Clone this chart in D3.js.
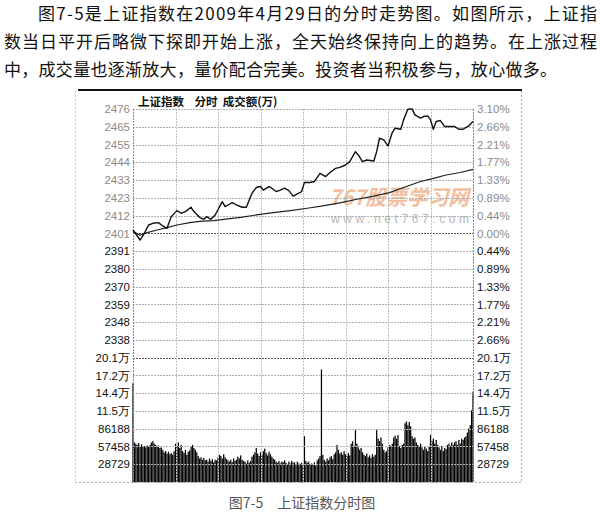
<!DOCTYPE html>
<html><head><meta charset="utf-8">
<script src="https://cdn.jsdelivr.net/npm/d3@7/dist/d3.min.js"></script>
<style>
html,body{margin:0;padding:0;background:#fff;}
svg{display:block;}
</style></head>
<body>
<svg id="c" width="600" height="515"></svg>
<script>
// ---------- data ----------
const paraLines = [
  "图7-5是上证指数在2009年4月29日的分时走势图。如图所示，上证指",
  "数当日平开后略微下探即开始上涨，全天始终保持向上的趋势。在上涨过程",
  "中，成交量也逐渐放大，量价配合完美。投资者当积极参与，放心做多。"
];
const chartTitle = "上证指数    分时  成交额(万)";
const caption = "图7-5　上证指数分时图";
const leftLabels = ["2476","2465","2455","2444","2433","2423","2412","2401","2391","2380","2370","2359","2348","2338",
  "20.1万","17.2万","14.4万","11.5万","86188","57458","28729"];
const rightLabels = ["3.10%","2.66%","2.21%","1.77%","1.33%","0.89%","0.44%","0.00%","0.44%","0.89%","1.33%","1.77%","2.21%","2.66%",
  "20.1万","17.2万","14.4万","11.5万","86188","57458","28729"];
const preClose = 2401.4;
const priceStep = 10.63;
const volStep = 28729;

// price line (minute index from 9:30, 0..240)
const priceMin = [0,5,8,11,14,18,21,24,27,31,34,37,41,43,47,50,52,55,58,63,65,68,70,73,77,80,84,87,90,92,96,98,101,104,107,110,113,117,119,121,125,128,132,136,139,143,146,150,153,157,159,162,165,170,172,174,177,180,183,185,189,191,194,197,199,203,205,208,210,212,214,217,220,224,227,230,233,237,240];
const priceVal = [2403.4,2397.4,2401.4,2406.4,2407.4,2407.8,2405.8,2404.4,2411.4,2415,2413.4,2414.4,2417,2414.4,2411,2409.8,2411.4,2409.8,2412.4,2420.4,2417.4,2418.8,2419.8,2418.4,2417,2417,2425.4,2428.8,2429.4,2427.3,2429.4,2428.4,2426.4,2427.3,2428.4,2427,2423.7,2425.4,2426.4,2431.8,2431.8,2432.4,2437.3,2435.4,2437.8,2440.3,2440.9,2442.3,2444.3,2450.3,2448.3,2444.3,2445.3,2444.7,2450.3,2458.3,2457.3,2453.7,2461.7,2464.3,2463.7,2469.3,2475.7,2475.9,2472.3,2470.3,2471.3,2471.7,2469.3,2463.7,2468.3,2468.9,2465.3,2465.3,2465.3,2463.7,2463.7,2465.7,2468.3];
// average price line
const avgMin = [0,5,10,17,24,31,40,47,57,64,76,87,99,111,123,134,146,158,170,181,193,203,212,221,231,240];
const avgVal = [2402.4,2400.4,2401.8,2403.4,2404.8,2406.4,2407.8,2408.6,2409,2409.8,2411,2412.4,2413.8,2415,2416.4,2417.8,2419.6,2421.8,2423.7,2425.8,2429.4,2432.4,2434.3,2436.3,2437.8,2439.7];
// per-minute volume, in thousands (0..240)
const volumeK = [160,
 64,62,60,63,58,61,57, 58,56,59,57,60, 64,66,62, 60,57,59,55,56, 52,48,50,46,49,45, 47,44,50,
 62,58,64,55,60, 50,47,52,44,49,51, 58,60,55,52,48, 42,38,40,36,39,35, 36,33,38,34,37,32,36,35,
 40,44,42,38,45,40,37, 35,33,36,32,38,34,36, 41,38,43,36,34, 33,30,35,31,34, 41,44,48,55,
 46,42,48,44,50,54, 47,43,49,45,41,38,36,
 33,31,34,30,33,32,35,31,29,33,30,34,31,32,28,33,30,29,31,27,
 74,
 34,31,33,29,30,28,32,27,35,38,42,
 182,
 44,36,33,38,35,40,42,37,45,48,
 60,
 52,46,48,44,50,45,42,47,43,
 62,66,58,84, 62,56,52,55,48, 44,42,46,40,43,39,45,41,44,
 84, 70,66,72,62, 52,48,50,56, 60,58,62, 72,75,70,76, 58,55,60,62,
 95,98,92,97,90, 74,70,72,64, 60,58,62, 56,52,58,54,50,57,
 76, 66,70,62,68,60, 56,52,58,50,55,53, 60,62,58,64,60, 64,66,60,68,62,
 70,68,72,74, 80,86,92, 116,146];

// ---------- drawing ----------
const svg = d3.select("#c");
svg.append("rect").attr("width",600).attr("height",515).attr("fill","#fff");

const cjk = "'Noto Sans CJK SC','Noto Sans',sans-serif";
const latin = "Arial,'Liberation Sans',sans-serif";

// paragraph
const paraX = [38,4,4], paraLen = [559,593,553], paraY = [20,48,76];
paraLines.forEach((t,i)=>{
  svg.append("text").attr("x",paraX[i]).attr("y",paraY[i])
    .attr("font-family",cjk).attr("font-size",17).attr("fill","#111")
    .attr("textLength",paraLen[i]).attr("lengthAdjust","spacing").text(t);
});

const L = 133, R = 473, T = 109, B = 482;
const x = d3.scaleLinear().domain([0,240]).range([L,R]);
const row = d3.scaleLinear().domain([0,21]).range([T,B]);
const yP = d3.scaleLinear().domain([preClose-6*priceStep, preClose+7*priceStep]).range([row(13), row(0)]);
const yV = d3.scaleLinear().domain([0, 7*volStep]).range([B, row(14)]);

// outer frame
svg.append("line").attr("x1",78).attr("x2",522).attr("y1",90).attr("y2",90).attr("stroke","#111").attr("stroke-width",2);
const dotted = (x1,y1,x2,y2,c)=>svg.append("line").attr("x1",x1).attr("y1",y1).attr("x2",x2).attr("y2",y2)
  .attr("stroke",c||"#aaa").attr("stroke-width",1).attr("stroke-dasharray","2,2");
dotted(75.5,91,75.5,482,"#ccc");
dotted(521.5,91,521.5,482,"#aaa");
dotted(75,482.5,521,482.5,"#aaa");

// watermark
svg.append("text").attr("x",329).attr("y",205).attr("font-family",cjk).attr("font-size",21)
  .attr("font-weight","bold").attr("font-style","italic").attr("fill","#f2b38e").attr("opacity",0.85)
  .attr("textLength",140).attr("lengthAdjust","spacingAndGlyphs").text("767股票学习网");
svg.append("text").attr("x",331).attr("y",223).attr("font-family",latin).attr("font-size",12)
  .attr("fill","#b8b8b8").attr("textLength",138).attr("lengthAdjust","spacing").text("www.net767.com");

// volume bars
svg.append("g").selectAll("rect").data(volumeK).join("rect")
  .attr("x",(d,i)=>x(i)-0.6).attr("width",1.25)
  .attr("y",d=>yV(d*1000)).attr("height",d=>B-yV(d*1000))
  .attr("fill","#000");

// grid
const grid = svg.append("g");
d3.range(0,22).forEach(i=>{
  let c = "#b0b0b0";
  if (i===7 || i===14) c = "#555";
  grid.append("line").attr("x1",L).attr("x2",R).attr("y1",Math.round(row(i))+0.5).attr("y2",Math.round(row(i))+0.5)
    .attr("stroke",c).attr("stroke-width",1).attr("stroke-dasharray","2,1");
});
d3.range(0,9).forEach(k=>{
  const xx = Math.round(x(k*30))+0.5;
  grid.append("line").attr("x1",xx).attr("x2",xx).attr("y1",T).attr("y2",B)
    .attr("stroke",(k===0||k===8)?"#888":"#c0c0c0").attr("stroke-width",1).attr("stroke-dasharray","2,1");
});

// average line & price line
const avgData = avgMin.map((m,i)=>[m,avgVal[i]]);
const priceData = priceMin.map((m,i)=>[m,priceVal[i]]);
const ln = d3.line().x(d=>x(d[0])).y(d=>yP(d[1]));
svg.append("path").attr("d",ln(avgData)).attr("fill","none").attr("stroke","#222").attr("stroke-width",1.2);
svg.append("path").attr("d",ln(priceData)).attr("fill","none").attr("stroke","#111").attr("stroke-width",1.4)
  .attr("stroke-linejoin","round");

// axes (labels only)
const idx = d3.range(0,21);
const lAx = svg.append("g").attr("transform",`translate(${L},0)`)
  .call(d3.axisLeft(row).tickValues(idx).tickFormat(i=>leftLabels[i]).tickSize(0).tickPadding(3));
const rAx = svg.append("g").attr("transform",`translate(${R},0)`)
  .call(d3.axisRight(row).tickValues(idx).tickFormat(i=>rightLabels[i]).tickSize(0).tickPadding(4));
[lAx,rAx].forEach(g=>{
  g.select(".domain").remove();
  g.selectAll("text").attr("font-family",latin).attr("font-size",11.5)
    .attr("fill",(i)=> i<=7 ? "#8a8a8a" : "#111");
});

// chart title
svg.append("text").attr("x",138).attr("y",106).attr("font-family",cjk).attr("font-size",11.5)
  .attr("fill","#111").attr("font-weight","bold").attr("xml:space","preserve").style("white-space","pre").text(chartTitle);

// caption
svg.append("text").attr("x",302).attr("y",508).attr("text-anchor","middle").attr("font-family",cjk)
  .attr("font-size",14).attr("fill","#555").style("white-space","pre").text(caption);
</script>
</body></html>
